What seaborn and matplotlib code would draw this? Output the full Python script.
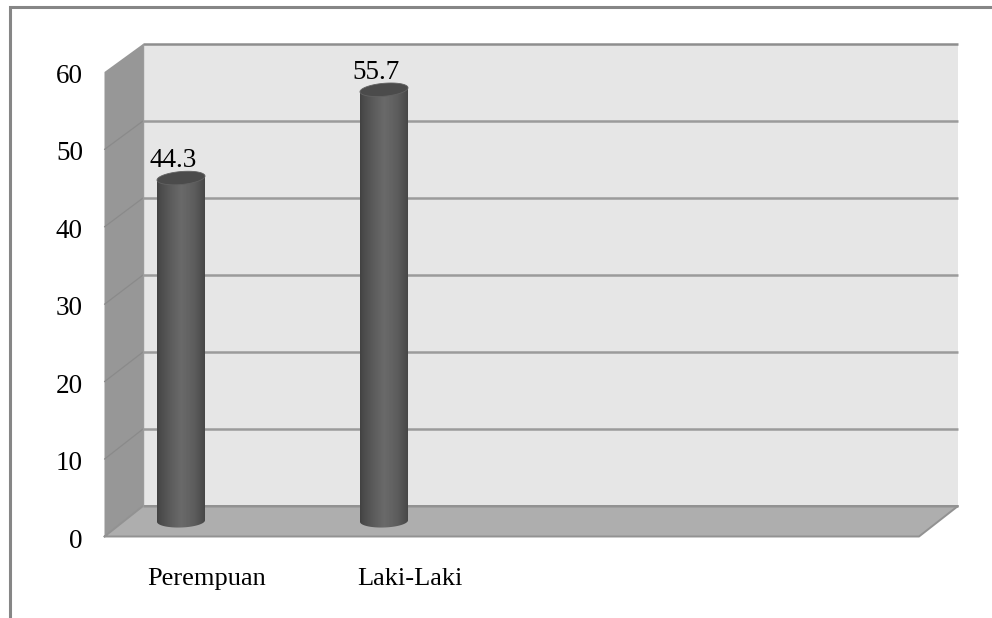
import numpy as np
import matplotlib
matplotlib.use("Agg")
import matplotlib.pyplot as plt
from matplotlib.patches import Polygon, PathPatch
from matplotlib.path import Path
from matplotlib.transforms import ScaledTranslation
import seaborn as sns

# Respondent share by sex (percent)
categories = ["Perempuan", "Laki-Laki"]
values = [44.3, 55.7]
slot_labels = ["Perempuan", "Laki-Laki", "", ""]
y_ticks = [0, 10, 20, 30, 40, 50, 60]

W, H = 992, 618
sns.set_theme(style="white")
plt.rcParams["font.family"] = ["Liberation Serif", "DejaVu Serif"]

# Pixel geometry of the box
FL, FR, FB, FT = 104.5, 919, 536.5, 72   # front plane
BL, BR, BB, BT = 143, 958, 506, 44       # back wall
PX_PER_UNIT = (FB - FT) / 60
BACK_PX_PER_UNIT = (BB - BT) / 60

fig = plt.figure(figsize=(W / 100, H / 100), dpi=100, facecolor="white")


def axes_px(left, right, bottom, top, **kw):
    return fig.add_axes([left / W, 1 - bottom / H, (right - left) / W, (bottom - top) / H], **kw)


# Box scenery, drawn in pixel coordinates
bg = fig.add_axes([0, 0, 1, 1], zorder=0)
bg.set_xlim(0, W)
bg.set_ylim(H, 0)
bg.axis("off")

bg.plot([10, 10, W], [H, 7, 7], color="#868686", lw=2.2, solid_joinstyle="miter")
bg.add_patch(Polygon([(BL, BT), (BR, BT), (BR, BB), (BL, BB)], fc="#e6e6e6", ec="none"))
bg.add_patch(Polygon([(FL, FT), (BL, BT), (BL, BB), (FL, FB)], fc="#979797", ec="none"))
bg.add_patch(Polygon([(FL, FB), (BL, BB), (BR, BB), (FR, FB)], fc="#aeaeae", ec="none"))
for v in y_ticks:
    y_front = FB - v * PX_PER_UNIT
    y_back = BB - v * BACK_PX_PER_UNIT
    if 0 < v < 60:
        bg.plot([FL, BL], [y_front, y_back], color="#8a8a8a", lw=0.9)
    shade_line = "#8e8e8e" if v == 60 else "#9b9b9b"
    bg.plot([BL, BR], [y_back, y_back], color=shade_line, lw=1.8, solid_capstyle="butt")
bg.plot([FL, BL, BR, FR, FL], [FB, BB, BB, FB, FB], color="#929292", lw=1.4)
bg.plot([BL, BL], [BT, BB], color="#9b9b9b", lw=1.0)

# Front plane carries the value and category ticks
front = axes_px(FL, FR, FB, FT, zorder=1)
front.patch.set_visible(False)
front.set_ylim(0, 60)
front.set_xlim(-0.5, 3.5)
front.set_yticks(y_ticks)
front.set_xticks(range(4))
front.set_xticklabels(slot_labels)
front.tick_params(axis="y", length=0, pad=15.5, labelsize=19.5, colors="black")
front.tick_params(axis="x", length=0, pad=23, labelsize=19, colors="black")
for s in front.spines.values():
    s.set_visible(False)
nudge = ScaledTranslation(0, -1.5 / 100, fig.dpi_scale_trans)
for label in front.get_yticklabels():
    label.set_transform(label.get_transform() + nudge)

# Cylinders stand on the mid-depth plane
BASE_Y = 521
CAT_STEP = 203.0
CAT0 = 181.0
ax = axes_px(FL, BR, BASE_Y, BASE_Y - 60 * PX_PER_UNIT, zorder=2)
sns.barplot(x=categories, y=values, ax=ax, color="#555555", width=0.2365, saturation=1)
ax.axis("off")
ax.patch.set_visible(False)

ramp = np.array([0.0, 0.08, 0.25, 0.5, 0.75, 0.92, 1.0])
shade = np.array([0x42, 0x4c, 0x5a, 0x6a, 0x5e, 0x4e, 0x44]) / 255
gradient = np.interp(np.linspace(0, 1, 128), ramp, shade)[None, :]
ELL_H = 13 / PX_PER_UNIT
TILT_TOP = 4 / PX_PER_UNIT
TILT_BASE = 1.5 / PX_PER_UNIT

for bar, val in zip(ax.patches, values):
    x0, w = bar.get_x(), bar.get_width()
    cx = x0 + w / 2
    bar.set_visible(False)
    # Body outline: straight sides closed by the lower half of the base ellipse
    theta = np.linspace(np.pi, 2 * np.pi, 60)
    ux = np.cos(theta)
    arc = np.column_stack([cx + w / 2 * ux, ELL_H / 2 * np.sin(theta) + TILT_BASE / 2 * ux])
    outline = np.vstack([[x0, val - TILT_TOP / 2], arc, [x0 + w, val + TILT_TOP / 2], [x0, val - TILT_TOP / 2]])
    body = PathPatch(Path(outline), fc="none", ec="none", transform=ax.transData)
    ax.add_patch(body)
    im = ax.imshow(gradient, extent=(x0, x0 + w, -ELL_H, val + ELL_H), aspect="auto",
                   cmap="gray", vmin=0, vmax=1, interpolation="bilinear", zorder=3)
    im.set_clip_box(fig.bbox)
    im.set_clip_path(body)
    # Top cap: a slightly tilted ellipse
    phi = np.linspace(0, 2 * np.pi, 90)
    cap = np.column_stack([cx + w / 2 * np.cos(phi),
                           val + ELL_H / 2 * np.sin(phi) + TILT_TOP / 2 * np.cos(phi)])
    ax.add_patch(Polygon(cap, fc="#4b4b4b", ec="#626262", lw=0.6, zorder=4))
    ax.annotate(f"{val:.1f}", (cx, val), xytext=(-5.8, 7.7), textcoords="offset points",
                ha="center", va="baseline", fontsize=19.5, color="black", zorder=5,
                annotation_clip=False)

ax.set_xlim((FL - CAT0) / CAT_STEP, (BR - CAT0) / CAT_STEP)
ax.set_ylim(0, 60)

fig.savefig("out.png", dpi=100, facecolor="white")
